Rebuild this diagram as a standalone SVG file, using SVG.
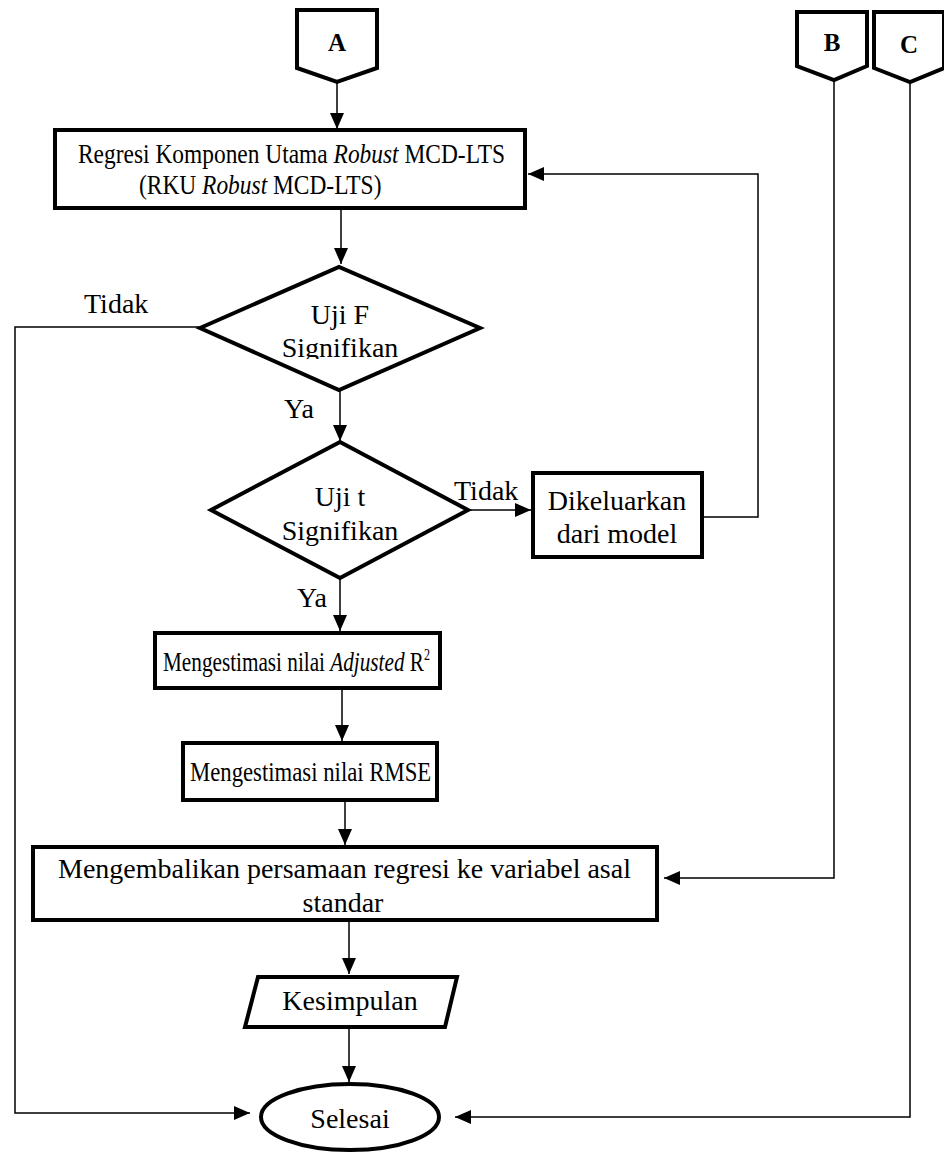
<svg xmlns="http://www.w3.org/2000/svg" width="944" height="1153" viewBox="0 0 944 1153">
  <defs>
    <marker id="arrow" markerUnits="userSpaceOnUse" markerWidth="16" markerHeight="16" viewBox="0 0 16 16" refX="16" refY="8" orient="auto">
      <path d="M0,1 L16,8 L0,15 Z" fill="#000"/>
    </marker>
    <clipPath id="clipF">
      <rect x="200" y="260" width="290" height="99"/>
    </clipPath>
  </defs>
  <style>
    .shape { fill: #fff; stroke: #000; stroke-width: 4; }
    .wire { fill: none; stroke: #000; stroke-width: 1.5; }
    .arr { marker-end: url(#arrow); }
    text { font-family: "Liberation Serif", "Times New Roman", serif; fill: #000; }
    .t { font-size: 28px; }
    .c { text-anchor: middle; }
    .it { font-style: italic; }
    .bold { font-weight: bold; font-size: 25px; }
  </style>

  <rect width="944" height="1153" fill="#fff"/>

  <!-- connectors -->
  <g id="connectors">
    <line class="wire arr" x1="337" y1="82" x2="337" y2="129"/>
    <line class="wire arr" x1="341" y1="208" x2="341" y2="264"/>
    <line class="wire arr" x1="340" y1="390" x2="340" y2="441"/>
    <line class="wire arr" x1="468" y1="510" x2="531" y2="510"/>
    <polyline class="wire arr" points="702,517 758,517 758,174 528,174"/>
    <line class="wire arr" x1="340" y1="578" x2="340" y2="631"/>
    <line class="wire arr" x1="342" y1="688" x2="342" y2="741"/>
    <line class="wire arr" x1="345" y1="800" x2="345" y2="845"/>
    <polyline class="wire arr" points="834,80 834,878 664,878"/>
    <line class="wire arr" x1="349" y1="922" x2="349" y2="974"/>
    <line class="wire arr" x1="349" y1="1029" x2="349" y2="1082"/>
    <polyline class="wire arr" points="200,327 15,327 15,1113 250,1113"/>
    <polyline class="wire arr" points="910,82 910,1117 455,1117"/>
  </g>

  <!-- off-page connectors -->
  <g id="conn-A">
    <polygon class="shape" points="297,10 377,10 377,68 337,82 297,68"/>
    <text class="bold c" x="337" y="51">A</text>
  </g>
  <g id="conn-B">
    <polygon class="shape" points="797,12 867,12 867,66 834,80 797,66"/>
    <text class="bold c" x="832" y="51">B</text>
  </g>
  <g id="conn-C">
    <polygon class="shape" points="874,12 944,12 944,68 910,82 874,68"/>
    <text class="bold c" x="909" y="53">C</text>
  </g>

  <!-- process: principal component regression (condensed type) -->
  <g id="rku">
    <rect class="shape" x="55" y="130" width="470" height="78"/>
    <text class="t" font-size="27" transform="translate(78,163) scale(0.837,1)">Regresi Komponen Utama <tspan class="it">Robust</tspan> MCD-LTS</text>
    <text class="t" font-size="27" transform="translate(139,194) scale(0.837,1)">(RKU <tspan class="it">Robust</tspan> MCD-LTS)</text>
  </g>

  <!-- decision: F test -->
  <g id="uji-f">
    <polygon class="shape" points="200,328 339,267 480,328 339,390"/>
    <text class="t c" x="340" y="324">Uji F</text>
    <text class="t c" x="340" y="357" clip-path="url(#clipF)">Signifikan</text>
    <text class="t" x="84" y="313">Tidak</text>
    <text class="t" x="284" y="418">Ya</text>
  </g>

  <!-- decision: t test -->
  <g id="uji-t">
    <polygon class="shape" points="211,510 340,442 468,510 340,578"/>
    <text class="t c" x="340" y="506">Uji t</text>
    <text class="t c" x="340" y="540">Signifikan</text>
    <text class="t" x="454" y="500">Tidak</text>
    <text class="t" x="297" y="607">Ya</text>
  </g>

  <!-- process: drop variable -->
  <g id="dikeluarkan">
    <rect class="shape" x="533" y="473" width="169" height="84"/>
    <text class="t c" x="617" y="510" font-size="30">Dikeluarkan</text>
    <text class="t c" x="617" y="543" font-size="30">dari model</text>
  </g>

  <!-- process: adjusted R squared (condensed type) -->
  <g id="adjusted-r2">
    <rect class="shape" x="155" y="633" width="285" height="55"/>
    <text class="t" font-size="26" transform="translate(163,671) scale(0.758,1)">Mengestimasi nilai <tspan class="it">Adjusted</tspan> R<tspan font-size="16" dy="-11">2</tspan></text>
  </g>

  <!-- process: RMSE (condensed type) -->
  <g id="rmse">
    <rect class="shape" x="183" y="743" width="254" height="57"/>
    <text class="t" font-size="26" transform="translate(190,781) scale(0.812,1)">Mengestimasi nilai RMSE</text>
  </g>

  <!-- process: back-transform -->
  <g id="kembali">
    <rect class="shape" x="33" y="847" width="624" height="73"/>
    <text class="t" x="58" y="878" font-size="30">Mengembalikan persamaan regresi ke variabel asal</text>
    <text class="t c" x="343" y="912">standar</text>
  </g>

  <!-- output: conclusion -->
  <g id="kesimpulan">
    <polygon class="shape" points="258,977 457,977 445,1027 245,1027"/>
    <text class="t c" x="350" y="1010">Kesimpulan</text>
  </g>

  <!-- terminator -->
  <g id="selesai">
    <ellipse class="shape" cx="350" cy="1117" rx="89" ry="33"/>
    <text class="t c" x="350" y="1128" font-size="26">Selesai</text>
  </g>
</svg>
